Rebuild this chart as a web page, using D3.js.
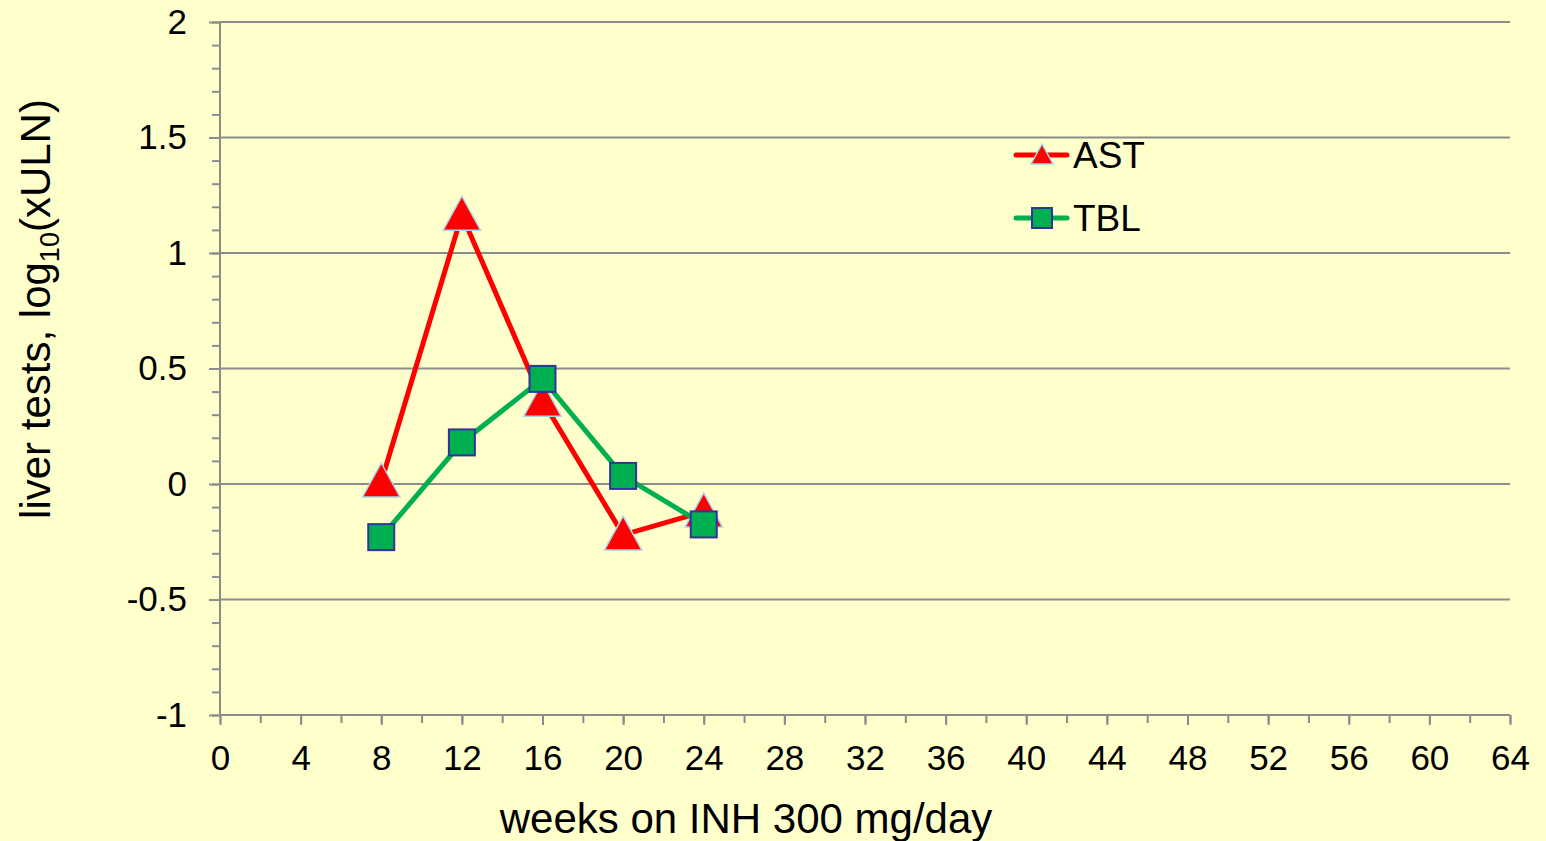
<!DOCTYPE html>
<html>
<head>
<meta charset="utf-8">
<script src="https://cdn.jsdelivr.net/npm/d3@7"></script>
<style>
  html, body { margin: 0; padding: 0; background: #ffffcc; }
  svg { display: block; font-family: "Liberation Sans", Arial, sans-serif; }
</style>
</head>
<body>
<div id="chart"></div>
<script>
// data
const weeks = [8, 12, 16, 20, 24];
const astValues = [0.01, 1.165, 0.36, -0.22, -0.12];
const tblValues = [-0.23, 0.18, 0.455, 0.035, -0.175];
const xTicks = d3.range(0, 65, 4);
const yTicks = [-1, -0.5, 0, 0.5, 1, 1.5, 2];

const width = 1546, height = 841;
const margin = { top: 22, right: 36, bottom: 126, left: 220 };

const svg = d3.select("#chart")
  .append("svg")
  .attr("width", width)
  .attr("height", height);

svg.append("rect")
  .attr("width", width)
  .attr("height", height)
  .attr("fill", "#ffffcc");

const x = d3.scaleLinear().domain([0, 64]).range([margin.left, width - margin.right]);
const y = d3.scaleLinear().domain([-1, 2]).range([height - margin.bottom, margin.top]);

const axisColor = "#8c8c8c";
const fontFam = "Liberation Sans, Arial, sans-serif";

// horizontal gridlines
svg.append("g")
  .selectAll("line")
  .data(yTicks.filter((d) => d > -1))
  .join("line")
  .attr("x1", x(0))
  .attr("x2", x(64))
  .attr("y1", (d) => y(d))
  .attr("y2", (d) => y(d))
  .attr("stroke", axisColor)
  .attr("stroke-width", 2);

// y axis with minor ticks
const yMinor = d3.range(-10, 21).map((d) => d / 10);
svg.append("g")
  .attr("transform", `translate(${x(0)},0)`)
  .call(d3.axisLeft(y).tickValues(yMinor).tickSize(8).tickFormat(""))
  .call((g) => g.select(".domain").remove())
  .call((g) => g.selectAll("line").attr("stroke", axisColor).attr("stroke-width", 2));

svg.append("g")
  .attr("transform", `translate(${x(0)},0)`)
  .call(d3.axisLeft(y).tickValues(yTicks).tickSize(11).tickPadding(22).tickFormat((d) => d))
  .call((g) => g.select(".domain").attr("stroke", axisColor).attr("stroke-width", 2).attr("d", `M0,${y(2)}V${y(-1)}`))
  .call((g) => g.selectAll("line").attr("stroke", axisColor).attr("stroke-width", 2))
  .call((g) => g.selectAll("text").attr("font-size", 35).attr("fill", "#000").attr("font-family", fontFam));

// x axis with minor ticks
svg.append("g")
  .attr("transform", `translate(0,${y(-1)})`)
  .call(d3.axisBottom(x).tickValues(d3.range(0, 65, 2)).tickSize(8).tickFormat(""))
  .call((g) => g.select(".domain").remove())
  .call((g) => g.selectAll("line").attr("stroke", axisColor).attr("stroke-width", 2));

svg.append("g")
  .attr("transform", `translate(0,${y(-1)})`)
  .call(d3.axisBottom(x).tickValues(xTicks).tickSize(10).tickPadding(20).tickFormat((d) => d))
  .call((g) => g.select(".domain").attr("stroke", axisColor).attr("stroke-width", 2).attr("d", `M${x(0)},0H${x(64)}`))
  .call((g) => g.selectAll("line").attr("stroke", axisColor).attr("stroke-width", 2))
  .call((g) => g.selectAll("text").attr("font-size", 35).attr("fill", "#000").attr("font-family", fontFam));

// axis titles
svg.append("text")
  .attr("x", 746)
  .attr("y", 833)
  .attr("text-anchor", "middle")
  .attr("font-size", 42)
  .text("weeks on INH 300 mg/day");

const yTitle = svg.append("text")
  .attr("transform", `translate(50,309) rotate(-90)`)
  .attr("text-anchor", "middle")
  .attr("font-size", 42);
yTitle.append("tspan").text("liver tests, log");
yTitle.append("tspan").attr("font-size", 27).attr("dy", 9).text("10");
yTitle.append("tspan").attr("dy", -9).text("(xULN)");

// series
const astData = weeks.map((w, i) => ({ w, v: astValues[i] }));
const tblData = weeks.map((w, i) => ({ w, v: tblValues[i] }));
const line = d3.line().x((d) => x(d.w)).y((d) => y(d.v));

const triangle = (s) => `M0,${-s * 0.55}L${s * 0.55},${s * 0.45}L${-s * 0.55},${s * 0.45}Z`;

function drawTriangle(g, cx, cy, s) {
  g.append("path")
    .attr("d", triangle(s))
    .attr("transform", `translate(${cx},${cy})`)
    .attr("fill", "#ff0000")
    .attr("stroke", "#a8d8e8")
    .attr("stroke-width", 1.5);
}
function drawSquare(g, cx, cy, s) {
  g.append("rect")
    .attr("x", cx - s / 2)
    .attr("y", cy - s / 2)
    .attr("width", s)
    .attr("height", s)
    .attr("fill", "#00b050")
    .attr("stroke", "#333399")
    .attr("stroke-width", 2);
}

const astG = svg.append("g");
astG.append("path")
  .datum(astData)
  .attr("d", line)
  .attr("fill", "none")
  .attr("stroke", "#ff0000")
  .attr("stroke-width", 5);
astData.forEach((d) => drawTriangle(astG, x(d.w), y(d.v), 34));

const tblG = svg.append("g");
tblG.append("path")
  .datum(tblData)
  .attr("d", line)
  .attr("fill", "none")
  .attr("stroke", "#00b050")
  .attr("stroke-width", 5);
tblData.forEach((d) => drawSquare(tblG, x(d.w), y(d.v), 26));

// legend
const legend = [
  { name: "AST", color: "#ff0000", mark: drawTriangle, size: 20, yy: 155 },
  { name: "TBL", color: "#00b050", mark: drawSquare, size: 20, yy: 218 }
];
legend.forEach((l) => {
  const g = svg.append("g");
  g.append("line")
    .attr("x1", 1016).attr("x2", 1067)
    .attr("y1", l.yy).attr("y2", l.yy)
    .attr("stroke", l.color)
    .attr("stroke-width", 5)
    .attr("stroke-linecap", "round");
  l.mark(g, 1042, l.yy, l.size);
  g.append("text")
    .attr("x", 1073)
    .attr("y", l.yy + 13)
    .attr("font-size", 37)
    .text(l.name);
});
</script>
</body>
</html>
